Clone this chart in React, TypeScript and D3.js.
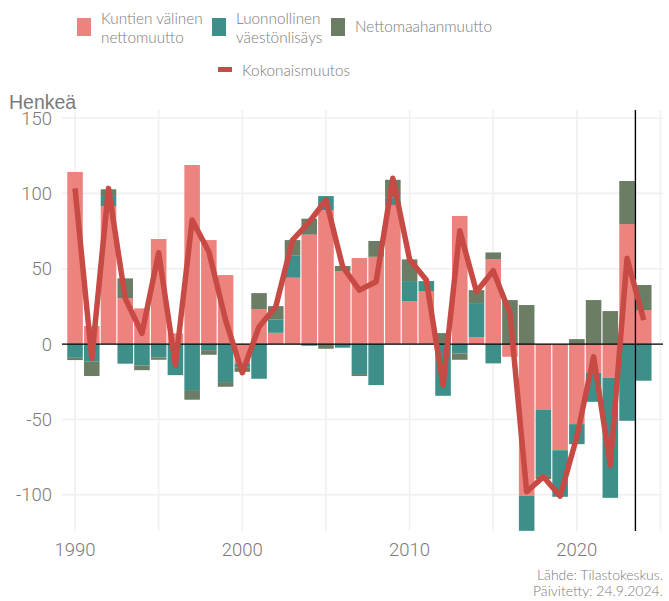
import { useEffect, useRef } from "react";
import { scaleLinear, select, stack, stackOffsetDiverging, line, curveLinear } from "d3";

const WIDTH = 669;
const HEIGHT = 601;
const PLOT = { left: 62, right: 663, top: 110, bottom: 531 };

const PINK = "#ec837e";
const TEAL = "#3e8f8a";
const OLIVE = "#6b7d64";
const RED = "#c84a44";
const GRID = "#f0f0f0";
const TEXT = "#7a7a7a";

const YEARS = [
  1990, 1991, 1992, 1993, 1994, 1995, 1996, 1997, 1998, 1999,
  2000, 2001, 2002, 2003, 2004, 2005, 2006, 2007, 2008, 2009,
  2010, 2011, 2012, 2013, 2014, 2015, 2016, 2017, 2018, 2019,
  2020, 2021, 2022, 2023, 2024,
];

// Kuntien välinen nettomuutto
const KUNTIEN = [
  114.2, 12.0, 91.6, 30.5, 23.7, 69.7, 7.1, 118.8, 69.0, 45.8,
  -12.8, 23.2, 7.5, 44.0, 72.6, 88.9, 48.5, 57.1, 57.9, 92.3,
  28.5, 35.2, 0, 85.0, 4.6, 56.4, -8.4, -100.7, -43.4, -70.4,
  -53.1, -19.0, -22.3, 79.6, 22.6,
];

// Luonnollinen väestönlisäys
const LUONNOLLINEN = [
  -9.1, -11.7, 6.6, -13.0, -14.2, -8.9, -20.6, -30.5, -4.0, -25.2,
  -2.9, -23.0, 8.9, 14.6, -1.1, 9.3, -2.4, -19.9, -27.2, 5.0,
  13.3, 6.6, -34.3, -6.2, 22.6, -12.8, 0, -23.2, -43.5, -30.9,
  -13.3, -19.3, -79.7, -50.9, -24.3,
];

// Nettomaahanmuutto
const NETTOMAAHANMUUTTO = [
  -1.5, -9.5, 4.5, 13.1, -3.1, -1.5, 0, -6.4, -3.1, -3.1,
  -2.7, 10.6, 8.8, 10.4, 10.6, -3.1, 3.3, -1.3, 10.5, 11.7,
  14.4, 0, 7.3, -4.2, 8.6, 4.4, 29.2, 25.9, -2.7, 0,
  3.3, 29.2, 21.9, 28.6, 16.6,
];

// Kokonaismuutos
const KOKONAIS = [
  103.3, -9.5, 103.3, 30.3, 7.1, 60.6, -14.0, 82.3, 61.3, 15.9,
  -19.0, 11.5, 24.8, 69.0, 81.0, 95.6, 51.3, 35.8, 41.4, 110.0,
  56.2, 42.5, -27.2, 75.2, 34.7, 48.7, 20.4, -98.0, -88.0, -100.9,
  -61.5, -8.4, -80.3, 56.9, 15.9,
];

const SERIES = [
  { key: "kuntien", label: ["Kuntien välinen", "nettomuutto"], color: PINK, values: KUNTIEN },
  { key: "luonnollinen", label: ["Luonnollinen", "väestönlisäys"], color: TEAL, values: LUONNOLLINEN },
  { key: "netto", label: ["Nettomaahanmuutto"], color: OLIVE, values: NETTOMAAHANMUUTTO },
];

const Y_TICKS = [150, 100, 50, 0, -50, -100];
const X_LABELS = [1990, 2000, 2010, 2020];
const X_GRID = [1990, 1995, 2000, 2005, 2010, 2015, 2020, 2025];
const MARKER_YEAR = 2023.5;

export default function App() {
  const svgRef = useRef<SVGSVGElement>(null);

  useEffect(() => {
    const svg = select(svgRef.current);
    svg.selectAll("*").remove();

    const x = scaleLinear().domain([1989.22, 2025.15]).range([PLOT.left, PLOT.right]);
    const y = scaleLinear().domain([-124, 155.3]).range([PLOT.bottom, PLOT.top]);

    svg.append("defs")
      .append("clipPath")
      .attr("id", "plot-clip")
      .append("rect")
      .attr("x", PLOT.left)
      .attr("y", PLOT.top)
      .attr("width", PLOT.right - PLOT.left)
      .attr("height", PLOT.bottom - PLOT.top);

    // grid
    Y_TICKS.forEach((t) => {
      svg.append("line")
        .attr("x1", PLOT.left).attr("x2", PLOT.right)
        .attr("y1", y(t)).attr("y2", y(t))
        .attr("stroke", GRID).attr("stroke-width", 1.6);
    });
    X_GRID.forEach((t) => {
      svg.append("line")
        .attr("x1", x(t)).attr("x2", x(t))
        .attr("y1", PLOT.top).attr("y2", PLOT.bottom)
        .attr("stroke", GRID).attr("stroke-width", 1.6);
    });

    // stacked bars
    const rows = YEARS.map((year, i) => {
      const row: Record<string, number> = { year };
      SERIES.forEach((s) => (row[s.key] = s.values[i]));
      return row;
    });
    const stacked = stack<Record<string, number>>()
      .keys(SERIES.map((s) => s.key))
      .offset(stackOffsetDiverging)(rows);

    const barW = (x(1) - x(0)) * 0.93;
    const bars = svg.append("g").attr("clip-path", "url(#plot-clip)");
    stacked.forEach((layer, li) => {
      bars.append("g")
        .attr("fill", SERIES[li].color)
        .selectAll("rect")
        .data(layer)
        .join("rect")
        .attr("x", (d) => x(d.data.year) - barW / 2)
        .attr("width", barW)
        .attr("y", (d) => y(Math.max(d[0], d[1])))
        .attr("height", (d) => Math.abs(y(d[0]) - y(d[1])));
    });

    // zero line + marker
    svg.append("line")
      .attr("x1", PLOT.left).attr("x2", PLOT.right)
      .attr("y1", y(0)).attr("y2", y(0))
      .attr("stroke", "#000").attr("stroke-width", 1.4);
    svg.append("line")
      .attr("x1", x(MARKER_YEAR)).attr("x2", x(MARKER_YEAR))
      .attr("y1", PLOT.top).attr("y2", PLOT.bottom)
      .attr("stroke", "#000").attr("stroke-width", 1.4);

    // total line
    const path = line<number>()
      .x((_, i) => x(YEARS[i]))
      .y((d) => y(d))
      .curve(curveLinear);
    svg.append("path")
      .attr("d", path(KOKONAIS))
      .attr("fill", "none")
      .attr("stroke", RED)
      .attr("stroke-width", 5.5)
      .attr("stroke-linejoin", "round")
      .attr("stroke-linecap", "butt");

    // axis labels
    Y_TICKS.forEach((t) => {
      svg.append("text")
        .attr("x", 52).attr("y", y(t)).attr("dy", "0.36em")
        .attr("text-anchor", "end")
        .attr("fill", TEXT)
        .attr("font-family", "Roboto, sans-serif").attr("font-weight", 300)
        .attr("font-size", "18.5px")
        .text(t);
    });
    X_LABELS.forEach((t) => {
      svg.append("text")
        .attr("x", x(t)).attr("y", 556)
        .attr("text-anchor", "middle")
        .attr("fill", TEXT)
        .attr("font-family", "Roboto, sans-serif").attr("font-weight", 300)
        .attr("font-size", "18.5px")
        .text(t);
    });
    svg.append("text")
      .attr("x", 9).attr("y", 109)
      .attr("fill", TEXT)
      .attr("font-family", "'Liberation Sans', Arial, sans-serif")
      .attr("font-size", "19.5px")
      .text("Henkeä");

    // legend
    const legendFont = "Lato, sans-serif";
    const legendSize = "15.3px";
    const legendX = [77, 212, 331];
    SERIES.forEach((s, i) => {
      svg.append("rect")
        .attr("x", legendX[i]).attr("y", 18)
        .attr("width", 14).attr("height", 18)
        .attr("fill", s.color);
      const tx = legendX[i] + 24;
      const lines = s.label;
      lines.forEach((l, j) => {
        svg.append("text")
          .attr("x", tx)
          .attr("y", lines.length === 1 ? 32 : 24 + j * 19)
          .attr("fill", TEXT)
          .attr("font-family", legendFont).attr("font-weight", 300)
          .attr("font-size", legendSize)
          .text(l);
      });
    });
    svg.append("line")
      .attr("x1", 218).attr("x2", 232)
      .attr("y1", 69.5).attr("y2", 69.5)
      .attr("stroke", RED).attr("stroke-width", 5);
    svg.append("text")
      .attr("x", 242).attr("y", 75.5)
      .attr("fill", TEXT)
      .attr("font-family", legendFont).attr("font-weight", 300)
      .attr("font-size", legendSize)
      .text("Kokonaismuutos");

    // caption
    ["Lähde: Tilastokeskus.", "Päivitetty: 24.9.2024."].forEach((c, i) => {
      svg.append("text")
        .attr("x", 663).attr("y", 580 + i * 16)
        .attr("text-anchor", "end")
        .attr("fill", TEXT)
        .attr("font-family", legendFont).attr("font-weight", 300)
        .attr("font-size", "14px")
        .text(c);
    });
  }, []);

  return (
    <svg
      ref={svgRef}
      width={WIDTH}
      height={HEIGHT}
      style={{ position: "absolute", left: 0, top: 0, background: "#fff" }}
    />
  );
}
